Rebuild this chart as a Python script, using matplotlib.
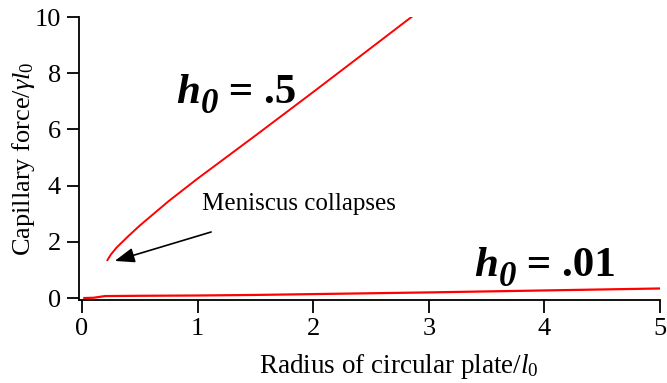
import matplotlib
matplotlib.use("Agg")
import matplotlib.pyplot as plt

plt.rcParams["font.family"] = ["Liberation Serif", "DejaVu Serif"]
plt.rcParams["mathtext.fontset"] = "custom"
plt.rcParams["mathtext.rm"] = "Liberation Serif"
plt.rcParams["mathtext.it"] = "Liberation Serif:italic"
plt.rcParams["mathtext.bf"] = "Liberation Serif:bold"

# Capillary force vs plate radius (both scaled by l0)
radius_h05 = [0.22, 0.25, 0.3, 0.4, 0.5, 0.75, 1.0, 1.5, 2.0, 2.5, 2.85]
force_h05 = [1.35, 1.55, 1.8, 2.2, 2.58, 3.45, 4.25, 5.78, 7.33, 8.9, 10.0]

radius_h001 = [0.02, 0.1, 0.2, 0.5, 1.0, 1.5, 2.0, 3.0, 4.0, 5.0]
force_h001 = [0.0, 0.01, 0.07, 0.08, 0.09, 0.11, 0.14, 0.2, 0.27, 0.34]

x_ticks = [0, 1, 2, 3, 4, 5]
y_ticks = [0, 2, 4, 6, 8, 10]

fig = plt.figure(figsize=(6.67, 3.83), dpi=100)
ax = fig.add_axes([79 / 667, 1 - 300 / 383, 581 / 667, 283 / 383])

ax.plot(radius_h05, force_h05, color="red", lw=1.4)
ax.plot(radius_h001, force_h001, color="red", lw=1.6)

ax.set_xlim(-0.026, 5)
ax.set_ylim(-0.07, 10)
ax.set_xticks(x_ticks)
ax.set_yticks(y_ticks)
ax.spines["top"].set_visible(False)
ax.spines["right"].set_visible(False)
for s in ("left", "bottom"):
    ax.spines[s].set_linewidth(1.3)
ax.tick_params(direction="out", length=9, width=1.3, labelsize=19, pad=4)

ax.set_xlabel(r"Radius of circular plate/$l_0$", fontsize=19.5)
ax.set_ylabel(r"Capillary force/$\gamma l_0$", fontsize=19)
ax.xaxis.set_label_coords(0.55, -0.185)
ax.xaxis.label.set_va("top")
ax.yaxis.set_label_coords(-0.072, 0.5)


def h0_label(x, y, value):
    """Bold italic h with a large lowered 0, followed by ' = value'."""
    t_h = ax.text(x, y, "h", fontsize=31, fontweight="bold", style="italic",
                  va="bottom", ha="left")
    t_0 = ax.annotate("0", xy=(1, 0), xycoords=t_h, xytext=(0.5, -7),
                      textcoords="offset points", fontsize=25,
                      fontweight="bold", style="italic", va="bottom", ha="left")
    ax.annotate(" = " + value, xy=(1, 0), xycoords=t_0, xytext=(0, 7),
                textcoords="offset points", fontsize=31, fontweight="bold",
                va="bottom", ha="left")


h0_label(0.816, 6.63, ".5")
h0_label(3.39, 0.48, ".01")

ax.text(1.04, 3.13, "Meniscus collapses", fontsize=18,
        va="baseline", ha="left")
ax.annotate("", xy=(0.283, 1.32), xytext=(1.117, 2.35),
            arrowprops=dict(arrowstyle="-|>,head_length=1.2,head_width=0.45",
                            color="black", lw=1.2, shrinkA=0, shrinkB=0))

fig.savefig("out.png", dpi=100)
